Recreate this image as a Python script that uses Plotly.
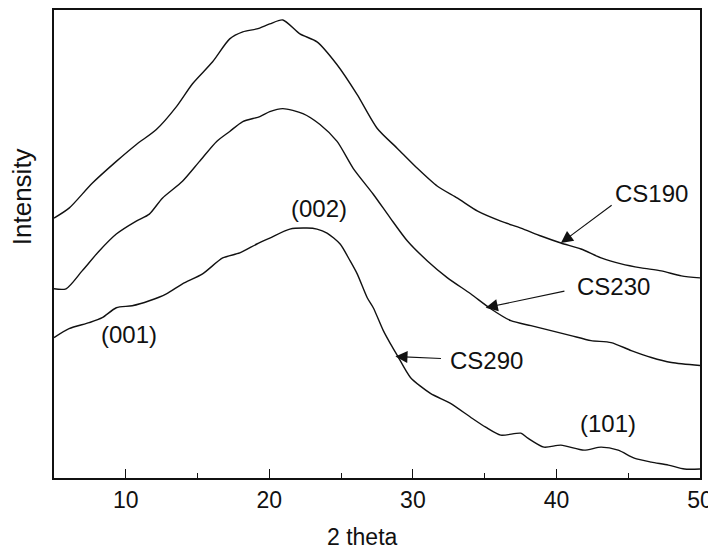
import plotly.graph_objects as go

# ---- data ----
x_cs190 = [5.0, 6.05, 7.66, 9.34, 10.74, 12.13, 13.53, 14.65, 16.05, 17.24, 18.15, 19.13, 20.03, 20.94,
           22.13, 23.32, 24.72, 26.12, 27.52, 28.92, 30.31, 31.71, 33.11, 34.51, 36.12, 37.52, 38.92,
           40.31, 41.71, 43.11, 44.51, 45.90, 47.30, 48.70, 50.0]
y_cs190 = [261, 271, 296, 318, 335, 350, 373, 396, 418, 441, 448, 451, 456, 460,
           446, 438, 415, 385, 351, 331, 311, 293, 281, 268, 258, 251, 243,
           236, 230, 221, 215, 211, 208, 203, 201]

x_cs230 = [5.0, 5.84, 6.96, 8.15, 9.34, 10.73, 11.64, 12.55, 13.95, 15.14, 16.33, 17.24, 18.15, 19.34,
           20.03, 20.94, 22.34, 23.53, 24.72, 25.84, 27.24, 28.43, 29.62, 31.01, 32.41, 34.02, 35.42,
           36.82, 38.22, 39.62, 41.01, 42.41, 43.81, 45.21, 46.61, 48.01, 50.0]
y_cs230 = [190, 190, 208, 228, 245, 258, 265, 281, 298, 318, 338, 348, 358, 363,
           368, 371, 366, 355, 338, 311, 285, 261, 238, 218, 201, 185, 170,
           158, 153, 148, 143, 138, 136, 128, 121, 116, 113]

x_cs290 = [5.0, 6.05, 7.45, 8.36, 9.34, 10.45, 11.64, 12.83, 13.95, 15.35, 16.75, 17.94, 19.13, 20.03,
           21.43, 22.62, 23.32, 24.02, 24.93, 25.63, 26.12, 26.82, 27.24, 27.94, 28.43, 28.92, 29.83,
           31.22, 32.62, 34.02, 35.07, 36.12, 37.52, 38.01, 39.13, 40.31, 41.92, 43.11, 44.30, 45.42,
           46.61, 47.80, 48.92, 50.0]
y_cs290 = [141, 150, 156, 161, 171, 173, 178, 185, 195, 205, 221, 226, 235, 241,
           250, 251, 250, 246, 235, 218, 205, 181, 171, 148, 135, 123, 101,
           85, 75, 61, 51, 43, 45, 40, 31, 33, 28, 31, 28, 20,
           16, 13, 9, 9]

x_ticks = [10, 20, 30, 40, 50]
x_tick_labels = ["10", "20", "30", "40", "50"]

FONT = "Liberation Sans, Arial, sans-serif"
LINE = "#111111"
TXT = "#111111"

fig = go.Figure()
for xs, ys, name in [(x_cs190, y_cs190, "CS190"), (x_cs230, y_cs230, "CS230"), (x_cs290, y_cs290, "CS290")]:
    fig.add_trace(go.Scatter(x=xs, y=ys, mode="lines", name=name,
                             line=dict(color=LINE, width=1.4, shape="spline", smoothing=0.7),
                             showlegend=False))

annots = []
# arrows (tip on curve, tail near label)
for tip, tail in [((40.31, 236), (43.95, 275)), ((35.07, 171), (40.66, 188)), ((28.78, 122), (32.06, 120))]:
    annots.append(dict(x=tip[0], y=tip[1], ax=tail[0], ay=tail[1], xref="x", yref="y",
                       axref="x", ayref="y", text="", showarrow=True, arrowhead=2,
                       arrowsize=2.2, arrowwidth=1.1, arrowcolor=LINE))
# curve labels
for tx, ty, t in [(46.6, 285.5, "CS190"), (43.95, 192, "CS230"), (35.14, 118, "CS290"),
                  (10.24, 144, "(001)"), (23.46, 271, "(002)"), (43.6, 55, "(101)")]:
    annots.append(dict(x=tx, y=ty, xref="x", yref="y", text=t, showarrow=False,
                       font=dict(family=FONT, size=24, color=TXT),
                       xanchor="center", yanchor="middle"))
# axis titles
annots.append(dict(x=26.47, y=-0.1255, xref="x", yref="paper", text="2 theta", showarrow=False,
                   font=dict(family=FONT, size=23, color=TXT), xanchor="center", yanchor="middle"))
annots.append(dict(x=-0.0495, y=282, xref="paper", yref="y", text="Intensity", showarrow=False,
                   textangle=-90, font=dict(family=FONT, size=26, color=TXT),
                   xanchor="center", yanchor="middle"))

fig.update_layout(
    width=708, height=543,
    margin=dict(l=46, r=16, t=0, b=73, pad=0),
    paper_bgcolor="white", plot_bgcolor="white",
    annotations=annots,
    font=dict(family=FONT, size=23, color=TXT),
)
fig.update_xaxes(range=[5, 50], tickvals=x_ticks, ticktext=x_tick_labels,
                 ticks="inside", ticklen=9, tickwidth=1.2, tickcolor=LINE,
                 minor=dict(ticks="inside", ticklen=5, dtick=5, tick0=0, tickcolor=LINE, tickwidth=1.2),
                 showline=True, linecolor=LINE, linewidth=2, mirror=True,
                 showgrid=False, zeroline=False,
                 tickfont=dict(family=FONT, size=23, color=TXT))
fig.update_yaxes(range=[0, 470], showticklabels=False, ticks="",
                 showline=True, linecolor=LINE, linewidth=2, mirror=True,
                 showgrid=False, zeroline=False)

fig.write_html("out.html")
